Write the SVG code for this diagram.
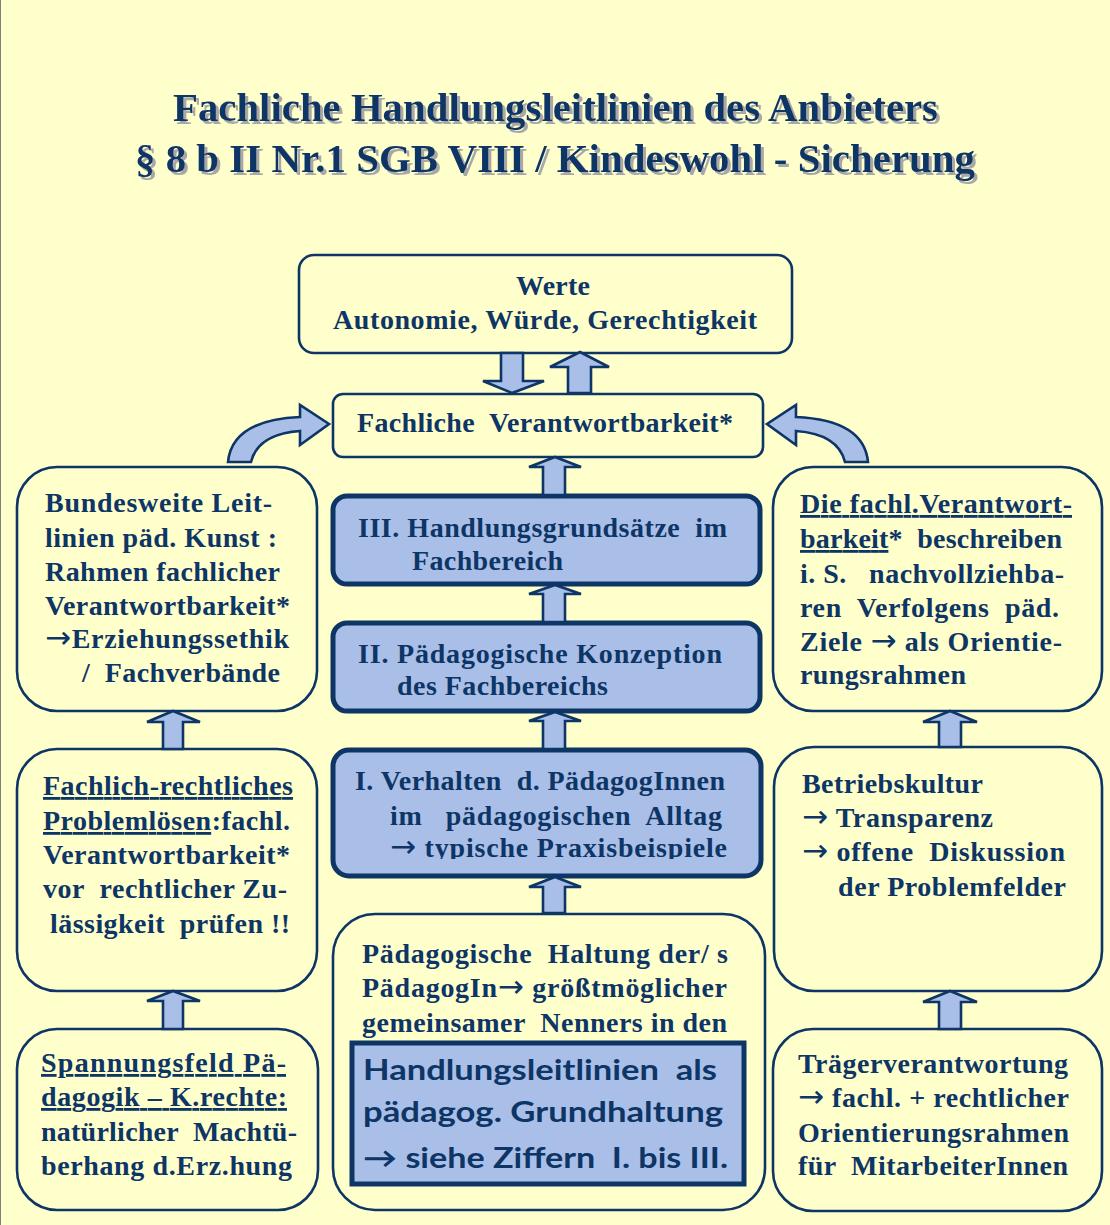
<svg xmlns="http://www.w3.org/2000/svg" width="1110" height="1225" viewBox="0 0 1110 1225">
<style>
.t{font-family:"Liberation Serif","Times New Roman",serif;font-weight:bold;font-size:28px;fill:#0D3565;white-space:pre}
.title{font-size:40px}
.sans{font-family:Lato,"Open Sans","DejaVu Sans",sans-serif;font-weight:bold;font-size:28px}
.ar{font-family:"DejaVu Sans",sans-serif;font-weight:normal;font-size:31px}
.u{text-decoration:underline}
.box{fill:#FFFFCC;stroke:#0D3565;stroke-width:2.6}
.bbox{fill:#AABFE8;stroke:#0D3565;stroke-width:5}
.arr{fill:#AABFE8;stroke:#0D3565;stroke-width:2.6;stroke-linejoin:miter}
</style>
<defs>
<clipPath id="clipI"><rect x="330" y="745" width="440" height="114"/></clipPath>
<filter id="shadow" x="-5%" y="-30%" width="110%" height="160%">
<feOffset in="SourceAlpha" dx="3" dy="3" result="o"/>
<feFlood flood-color="#A8A8A8"/>
<feComposite in2="o" operator="in" result="s"/>
<feMerge><feMergeNode in="s"/><feMergeNode in="SourceGraphic"/></feMerge>
</filter>
</defs>
<rect x="0" y="0" width="1110" height="1225" fill="#FFFFCC"/>
<line x1="0.5" y1="0" x2="0.5" y2="1225" stroke="#808080" stroke-width="1"/>

<g id="title" filter="url(#shadow)">
<text class="t title" x="173" y="121" textLength="765" lengthAdjust="spacingAndGlyphs">Fachliche Handlungsleitlinien des Anbieters</text>
<text class="t title" x="135" y="172" textLength="840" lengthAdjust="spacingAndGlyphs">§ 8 b II Nr.1 SGB VIII / Kindeswohl - Sicherung</text>
</g>

<g id="werte">
<rect class="box" x="299" y="255" width="493" height="98" rx="15"/>
<text class="t" x="516" y="295" textLength="74" lengthAdjust="spacing">Werte</text>
<text class="t" x="333" y="329" textLength="424" lengthAdjust="spacing">Autonomie, Würde, Gerechtigkeit</text>
</g>

<g id="fachliche">
<rect class="box" x="333" y="394" width="430" height="63" rx="10"/>
<text class="t" x="357" y="432" textLength="376" lengthAdjust="spacing">Fachliche  Verantwortbarkeit*</text>
</g>

<g id="box-III">
<rect class="bbox" x="333" y="496" width="427" height="88" rx="14"/>
<text class="t" x="358" y="537" textLength="369" lengthAdjust="spacing">III. Handlungsgrundsätze  im</text>
<text class="t" x="412" y="570" textLength="151" lengthAdjust="spacing">Fachbereich</text>
</g>

<g id="box-II">
<rect class="bbox" x="333" y="623" width="427" height="88" rx="14"/>
<text class="t" x="358" y="663" textLength="364" lengthAdjust="spacing">II. Pädagogische Konzeption</text>
<text class="t" x="397" y="695" textLength="211" lengthAdjust="spacing">des Fachbereichs</text>
</g>

<g id="box-I">
<rect class="bbox" x="333" y="750" width="428" height="126" rx="16"/>
<g clip-path="url(#clipI)">
<text class="t" x="355" y="790" textLength="370" lengthAdjust="spacing">I. Verhalten  d. PädagogInnen</text>
<text class="t" x="390" y="825" textLength="332" lengthAdjust="spacing">im   pädagogischen  Alltag</text>
<text class="t" x="390" y="857" textLength="337" lengthAdjust="spacing"><tspan class="ar">→</tspan> typische Praxisbeispiele</text>
</g>
</g>

<g id="haltung">
<rect class="box" x="333" y="914" width="432" height="296" rx="42"/>
<text class="t" x="362" y="963" textLength="366" lengthAdjust="spacing">Pädagogische  Haltung der/ s</text>
<text class="t" x="362" y="997" textLength="365" lengthAdjust="spacing">PädagogIn<tspan class="ar">→</tspan> größtmöglicher</text>
<text class="t" x="362" y="1032" textLength="365" lengthAdjust="spacing">gemeinsamer  Nenners in den</text>
<rect class="bbox" x="352" y="1043" width="392" height="141" rx="0"/>
<text class="t sans" x="363" y="1080" textLength="354" lengthAdjust="spacingAndGlyphs">Handlungsleitlinien  als</text>
<text class="t sans" x="363" y="1122" textLength="360" lengthAdjust="spacingAndGlyphs">pädagog. Grundhaltung</text>
<text class="t sans" x="363" y="1168" textLength="365" lengthAdjust="spacingAndGlyphs">→ siehe Ziffern  I. bis III.</text>
</g>

<g id="bundesweite">
<rect class="box" x="17" y="467" width="300" height="244" rx="40"/>
<text class="t" x="45" y="512" textLength="227" lengthAdjust="spacing">Bundesweite Leit-</text>
<text class="t" x="45" y="547" textLength="232" lengthAdjust="spacing">linien päd. Kunst :</text>
<text class="t" x="45" y="581" textLength="235" lengthAdjust="spacing">Rahmen fachlicher</text>
<text class="t" x="45" y="615" textLength="245" lengthAdjust="spacing">Verantwortbarkeit*</text>
<text class="t" x="45" y="648" textLength="244" lengthAdjust="spacing"><tspan class="ar">→</tspan>Erziehungssethik</text>
<text class="t" x="82" y="682" textLength="198" lengthAdjust="spacing">/  Fachverbände</text>
</g>

<g id="problemloesen">
<rect class="box" x="17" y="749" width="300" height="242" rx="40"/>
<text class="t" x="43" y="795" textLength="250" lengthAdjust="spacing"><tspan class="u">Fachlich-rechtliches</tspan></text>
<text class="t" x="43" y="830" textLength="247" lengthAdjust="spacing"><tspan class="u">Problemlösen</tspan>:fachl.</text>
<text class="t" x="43" y="864" textLength="247" lengthAdjust="spacing">Verantwortbarkeit*</text>
<text class="t" x="43" y="898" textLength="244" lengthAdjust="spacing">vor  rechtlicher Zu-</text>
<text class="t" x="50" y="933" textLength="240" lengthAdjust="spacing">lässigkeit  prüfen !!</text>
</g>

<g id="spannungsfeld">
<rect class="box" x="17" y="1029" width="301" height="181" rx="40"/>
<text class="t" x="41" y="1072" textLength="245" lengthAdjust="spacing"><tspan class="u">Spannungsfeld Pä-</tspan></text>
<text class="t" x="41" y="1106" textLength="246" lengthAdjust="spacing"><tspan class="u">dagogik – K.rechte:</tspan></text>
<text class="t" x="41" y="1141" textLength="256" lengthAdjust="spacing">natürlicher  Machtü-</text>
<text class="t" x="41" y="1175" textLength="251" lengthAdjust="spacing">berhang d.Erz.hung</text>
</g>

<g id="beschreibung">
<rect class="box" x="773" y="467" width="329" height="244" rx="40"/>
<text class="t" x="800" y="513" textLength="272" lengthAdjust="spacing"><tspan class="u">Die fachl.Verantwort-</tspan></text>
<text class="t" x="800" y="548" textLength="262" lengthAdjust="spacing"><tspan class="u">barkeit</tspan>*  beschreiben</text>
<text class="t" x="800" y="583" textLength="264" lengthAdjust="spacing">i. S.   nachvollziehba-</text>
<text class="t" x="800" y="617" textLength="259" lengthAdjust="spacing">ren  Verfolgens  päd.</text>
<text class="t" x="800" y="651" textLength="262" lengthAdjust="spacing">Ziele <tspan class="ar">→</tspan> als Orientie-</text>
<text class="t" x="800" y="684" textLength="166" lengthAdjust="spacing">rungsrahmen</text>
</g>

<g id="betriebskultur">
<rect class="box" x="774" y="747" width="328" height="244" rx="40"/>
<text class="t" x="802" y="793" textLength="181" lengthAdjust="spacing">Betriebskultur</text>
<text class="t" x="802" y="827" textLength="191" lengthAdjust="spacing"><tspan class="ar">→</tspan> Transparenz</text>
<text class="t" x="802" y="861" textLength="263" lengthAdjust="spacing"><tspan class="ar">→</tspan> offene  Diskussion</text>
<text class="t" x="838" y="896" textLength="228" lengthAdjust="spacing">der Problemfelder</text>
</g>

<g id="traeger">
<rect class="box" x="773" y="1029" width="329" height="182" rx="40"/>
<text class="t" x="798" y="1073" textLength="270" lengthAdjust="spacing">Trägerverantwortung</text>
<text class="t" x="798" y="1107" textLength="271" lengthAdjust="spacing"><tspan class="ar">→</tspan> fachl. + rechtlicher</text>
<text class="t" x="798" y="1142" textLength="271" lengthAdjust="spacing">Orientierungsrahmen</text>
<text class="t" x="798" y="1175" textLength="270" lengthAdjust="spacing">für  MitarbeiterInnen</text>
</g>

<g id="connectors">
<polygon class="arr" points="501,353 523,353 523,381 544,381 512,393 483,381 501,381"/>
<polygon class="arr" points="568,393 568,367 550,367 580,352 609,367 591,367 591,393"/>
<path class="arr" d="M228,462 Q232,420 300,417 L300,405 L329,424 L300,445 L300,431 Q258,434 251,462 Z"/>
<path class="arr" d="M868,462 Q864,420 796,417 L796,405 L767,424 L796,445 L796,431 Q838,434 845,462 Z"/>
<polygon class="arr" points="543,495 543,467 529,467 555,457 581,467 565,467 565,495"/>
<polygon class="arr" points="543,622 543,594 529,594 555,585 581,594 565,594 565,622"/>
<polygon class="arr" points="543,749 543,721 529,721 555,712 581,721 565,721 565,749"/>
<polygon class="arr" points="543,913 543,887 529,887 555,877 581,887 565,887 565,913"/>
<polygon class="arr" points="163,749 163,722 147,722 173,711 200,722 183,722 183,749"/>
<polygon class="arr" points="163,1029 163,1001 147,1001 173,991 200,1001 183,1001 183,1029"/>
<polygon class="arr" points="939,747 939,722 923,722 950,711 977,722 961,722 961,747"/>
<polygon class="arr" points="939,1029 939,1002 923,1002 950,991 977,1002 961,1002 961,1029"/>
</g>
</svg>
